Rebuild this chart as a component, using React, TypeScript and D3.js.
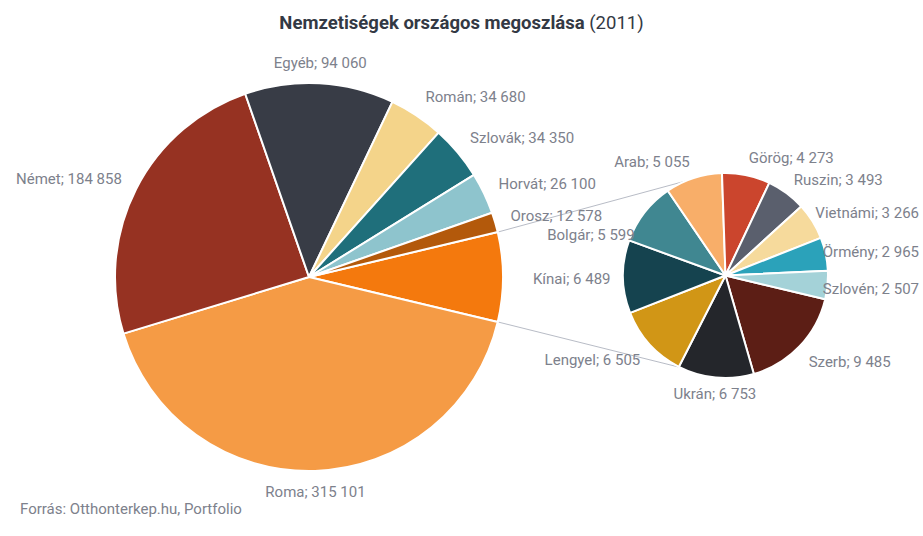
import React from "react";
import * as d3 from "d3";

const mainNames = ["Roma", "Német", "Egyéb", "Román", "Szlovák", "Horvát", "Orosz"];
const mainValues = [315101, 184858, 94060, 34680, 34350, 26100, 12578];
const mainColors = ["#F59B45", "#963222", "#383C46", "#F4D48A", "#1F6F7B", "#8EC4CD", "#B3590B"];
const otherColor = "#F4790D";

const subNames = ["Szerb", "Ukrán", "Lengyel", "Kínai", "Bolgár", "Arab", "Görög", "Ruszin", "Vietnámi", "Örmény", "Szlovén"];
const subValues = [9485, 6753, 6505, 6489, 5599, 5055, 4273, 3493, 3266, 2965, 2507];
const subColors = ["#5C1E15", "#24262B", "#D19616", "#15434F", "#408791", "#F8AE69", "#CB452D", "#5A5F6D", "#F6DA9C", "#2BA2BA", "#A4D2D8"];

const titleBold = "Nemzetiségek országos megoszlása";
const titleRest = " (2011)";
const sourceText = "Forrás: Otthonterkep.hu, Portfolio";

const W = 923;
const H = 536;
const FONT = "Roboto, 'Noto Sans', sans-serif";
const LABEL_SIZE = 15;
const LABEL_COLOR = "#7d818c";

const fmt = (v: number) => d3.format(",")(v).replace(/,/g, " ");

let ctx: CanvasRenderingContext2D | null = null;
function measure(text: string) {
  if (!ctx) ctx = document.createElement("canvas").getContext("2d");
  if (!ctx) return text.length * 7.5;
  ctx.font = `${LABEL_SIZE}px Roboto`;
  return ctx.measureText(text).width;
}

type Lab = { text: string; x: number; y: number; w: number; h: number; anchor: string };

function makeLabel(text: string, cx: number, cy: number, ang: number, rX: number, rY: number, yOff: number, rTB: number): Lab {
  const s = Math.sin(ang);
  const c = -Math.cos(ang);
  const w = measure(text);
  const h = 16;
  let x: number, y: number, anchor: string;
  if (Math.abs(s) < 0.15) {
    x = cx + s * rTB;
    const py = cy + c * rTB;
    y = c < 0 ? py - h / 2 : py + h / 2;
    anchor = "middle";
  } else {
    x = cx + s * rX;
    y = cy + c * rY + yOff;
    anchor = s > 0 ? "start" : "end";
  }
  let left = anchor === "start" ? x : anchor === "end" ? x - w : x - w / 2;
  const minL = 16, maxR = 919;
  if (left < minL) left = minL;
  if (left + w > maxR) left = maxR - w;
  x = anchor === "start" ? left : anchor === "end" ? left + w : left + w / 2;
  return { text, x, y, w, h, anchor };
}

function box(l: Lab) {
  const left = l.anchor === "start" ? l.x : l.anchor === "end" ? l.x - l.w : l.x - l.w / 2;
  return { x0: left, x1: left + l.w, y0: l.y - l.h / 2, y1: l.y + l.h / 2 };
}

function overlaps(a: Lab, b: Lab) {
  const A = box(a), B = box(b);
  return A.x0 < B.x1 && B.x0 < A.x1 && A.y0 < B.y1 && B.y0 < A.y1;
}

export default function App() {
  const mainCx = 309, mainCy = 277, mainR = 194;
  const subCx = 725.5, subCy = 275.5, subR = 102.5;

  const otherValue = d3.sum(subValues);
  const mainTotal = d3.sum(mainValues) + otherValue;
  const otherAngle = (otherValue / mainTotal) * 2 * Math.PI;
  const start = Math.PI / 2 - otherAngle / 2;

  const mainData = [{ name: "Other", value: otherValue, color: otherColor }].concat(
    mainNames.map((n, i) => ({ name: n, value: mainValues[i], color: mainColors[i] }))
  );
  const subData = subNames.map((n, i) => ({ name: n, value: subValues[i], color: subColors[i] }));

  const mainArcs = d3.pie<any>().sort(null).value((d: any) => d.value).startAngle(start).endAngle(start + 2 * Math.PI)(mainData);
  const subStart = Math.PI / 2 + otherAngle / 2;
  const subArcs = d3.pie<any>().sort(null).value((d: any) => d.value).startAngle(subStart).endAngle(subStart + 2 * Math.PI)(subData);

  const mainArc = d3.arc<any>().innerRadius(0).outerRadius(mainR);
  const subArc = d3.arc<any>().innerRadius(0).outerRadius(subR);

  const labels: Lab[] = [];
  mainArcs.forEach((a) => {
    if (a.data.name === "Other") return;
    const mid = (a.startAngle + a.endAngle) / 2;
    labels.push(makeLabel(`${a.data.name}; ${fmt(a.data.value)}`, mainCx, mainCy, mid, 210, 217, 0, 207));
  });
  subArcs.forEach((a) => {
    const mid = (a.startAngle + a.endAngle) / 2;
    const l = makeLabel(`${a.data.name}; ${fmt(a.data.value)}`, subCx, subCy, mid, 115, 122, 2, 111);
    let guard = 0;
    while (labels.some((o) => overlaps(o, l)) && guard < 100) {
      l.y += 1;
      guard++;
    }
    if (guard > 0) l.y += 2;
    labels.push(l);
  });

  const pt = (cx: number, cy: number, r: number, ang: number) => [cx + Math.sin(ang) * r, cy - Math.cos(ang) * r];
  const otherArc = mainArcs[0];
  const m1 = pt(mainCx, mainCy, mainR, otherArc.startAngle);
  const m2 = pt(mainCx, mainCy, mainR, otherArc.endAngle);
  const deg = Math.PI / 180;
  const s1 = pt(subCx, subCy, subR, -22.7 * deg);
  const s2 = pt(subCx, subCy, subR, -153.7 * deg);

  return (
    <svg width={W} height={H} style={{ position: "absolute", left: 0, top: 0, background: "#fff" }} fontFamily={FONT}>
      <text x={W / 2} y={29} textAnchor="middle" fontSize={18.5} fill="#333944">
        <tspan fontWeight="bold">{titleBold}</tspan>
        <tspan>{titleRest}</tspan>
      </text>

      <line x1={m1[0]} y1={m1[1]} x2={s1[0]} y2={s1[1]} stroke="#b8bcc6" strokeWidth={1} />
      <line x1={m2[0]} y1={m2[1]} x2={s2[0]} y2={s2[1]} stroke="#b8bcc6" strokeWidth={1} />

      <g transform={`translate(${mainCx},${mainCy})`}>
        {mainArcs.map((a, i) => (
          <path key={i} d={mainArc(a) as string} fill={a.data.color} stroke="#fff" strokeWidth={2} strokeLinejoin="round" />
        ))}
      </g>
      <g transform={`translate(${subCx},${subCy})`}>
        {subArcs.map((a, i) => (
          <path key={i} d={subArc(a) as string} fill={a.data.color} stroke="#fff" strokeWidth={2} strokeLinejoin="round" />
        ))}
      </g>

      {labels.map((l, i) => (
        <text key={i} x={l.x} y={l.y} dy="0.35em" textAnchor={l.anchor} fontSize={LABEL_SIZE} fill={LABEL_COLOR}>
          {l.text}
        </text>
      ))}

      <text x={20} y={509} dy="0.35em" fontSize={LABEL_SIZE} fill={LABEL_COLOR}>
        {sourceText}
      </text>
    </svg>
  );
}
